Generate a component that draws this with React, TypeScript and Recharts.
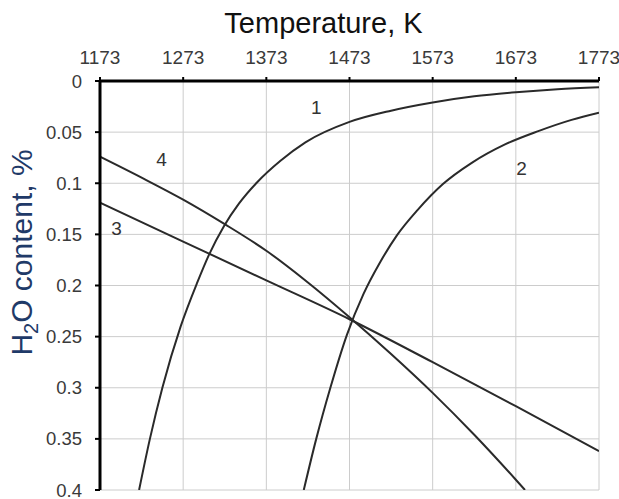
import { LineChart, Line, XAxis, YAxis, CartesianGrid, Label, ReferenceDot } from "recharts"

const FONT = "'Liberation Sans', Arial, sans-serif"

const tempTicks = [1173, 1273, 1373, 1473, 1573, 1673, 1773]
const contentTicks = [0, 0.05, 0.1, 0.15, 0.2, 0.25, 0.3, 0.35, 0.4]

// curve 1
const curve1T = [1220, 1233, 1248, 1270, 1290, 1304, 1322, 1340, 1362, 1390, 1420, 1473, 1523, 1573, 1623, 1673, 1723, 1773]
const curve1V = [0.4, 0.35, 0.3, 0.24, 0.197, 0.17, 0.142, 0.12, 0.099, 0.078, 0.06, 0.04, 0.029, 0.021, 0.015, 0.011, 0.008, 0.006]

// curve 2
const curve2T = [1418, 1433, 1450, 1470, 1490, 1510, 1530, 1555, 1585, 1620, 1660, 1700, 1740, 1773]
const curve2V = [0.4, 0.35, 0.3, 0.248, 0.208, 0.177, 0.151, 0.126, 0.101, 0.08, 0.062, 0.049, 0.038, 0.031]

// line 3
const curve3T = [1173, 1273, 1373, 1473, 1573, 1673, 1773]
const curve3V = [0.119, 0.157, 0.195, 0.233, 0.275, 0.318, 0.362]

// line 4
const curve4T = [1173, 1223, 1273, 1323, 1373, 1423, 1473, 1523, 1573, 1623, 1673, 1684]
const curve4V = [0.074, 0.0945, 0.116, 0.14, 0.166, 0.197, 0.231, 0.267, 0.305, 0.346, 0.39, 0.4]

const curveNames = ["1", "2", "3", "4"]
const labelT = [1433, 1680, 1193, 1247]
const labelV = [0.026, 0.085, 0.144, 0.077]

const toPoints = (ts: number[], vs: number[]) => ts.map((t, i) => ({ t, v: vs[i] }))

const series = [
  toPoints(curve1T, curve1V),
  toPoints(curve2T, curve2V),
  toPoints(curve3T, curve3V),
  toPoints(curve4T, curve4V),
]

const TitleLabel = (props: any) => {
  const { viewBox } = props
  return (
    <text
      x={viewBox.x + viewBox.width / 2 - 26}
      y={viewBox.y + 33}
      textAnchor="middle"
      fontSize={29}
      fontFamily={FONT}
      fill="#111"
    >
      Temperature, K
    </text>
  )
}

const YTitleLabel = (props: any) => {
  const { viewBox } = props
  const x = viewBox.x + 32
  const y = viewBox.y + viewBox.height / 2 - 33
  return (
    <text
      x={x}
      y={y}
      transform={`rotate(-90, ${x}, ${y})`}
      textAnchor="middle"
      fontSize={30}
      fontFamily={FONT}
      fill="#1f3a68"
    >
      <tspan>H</tspan>
      <tspan fontSize={20} dy={6}>2</tspan>
      <tspan dy={-6}>O content, %</tspan>
    </text>
  )
}

export default function App() {
  return (
    <div style={{ position: "absolute", left: 0, top: 0, background: "#fff" }}>
      <LineChart width={619} height={499} margin={{ top: 0, right: 20, bottom: 9, left: 0 }}>
        <CartesianGrid stroke="#cccccc" strokeWidth={1} />
        <XAxis
          dataKey="t"
          type="number"
          orientation="top"
          domain={[1173, 1773]}
          ticks={tempTicks}
          interval={0}
          height={81}
          allowDataOverflow
          axisLine={{ stroke: "#000", strokeWidth: 3 }}
          tickLine={{ stroke: "#000", strokeWidth: 2 }}
          tickSize={4}
          tickMargin={13}
          tick={{ fill: "#3a3a3a", fontSize: 19, fontFamily: FONT }}
        >
          <Label content={TitleLabel} />
        </XAxis>
        <YAxis
          type="number"
          reversed
          domain={[0, 0.4]}
          ticks={contentTicks}
          interval={0}
          width={100}
          allowDataOverflow
          axisLine={{ stroke: "#000", strokeWidth: 3 }}
          tickLine={{ stroke: "#000", strokeWidth: 2 }}
          tickSize={5}
          tickMargin={13}
          tick={{ fill: "#3a3a3a", fontSize: 18.5, fontFamily: FONT }}
        >
          <Label content={YTitleLabel} />
        </YAxis>
        {series.map((d, i) => (
          <Line
            key={curveNames[i]}
            data={d}
            dataKey="v"
            type="monotone"
            stroke="#2a2a2a"
            strokeWidth={2}
            dot={false}
            activeDot={false}
            isAnimationActive={false}
          />
        ))}
        {curveNames.map((name, i) => (
          <ReferenceDot
            key={"lbl" + name}
            x={labelT[i]}
            y={labelV[i]}
            r={1}
            fill="none"
            stroke="none"
            label={{ value: name, position: "center", fontSize: 19, fontFamily: FONT, fill: "#333" }}
          />
        ))}
      </LineChart>
    </div>
  )
}
